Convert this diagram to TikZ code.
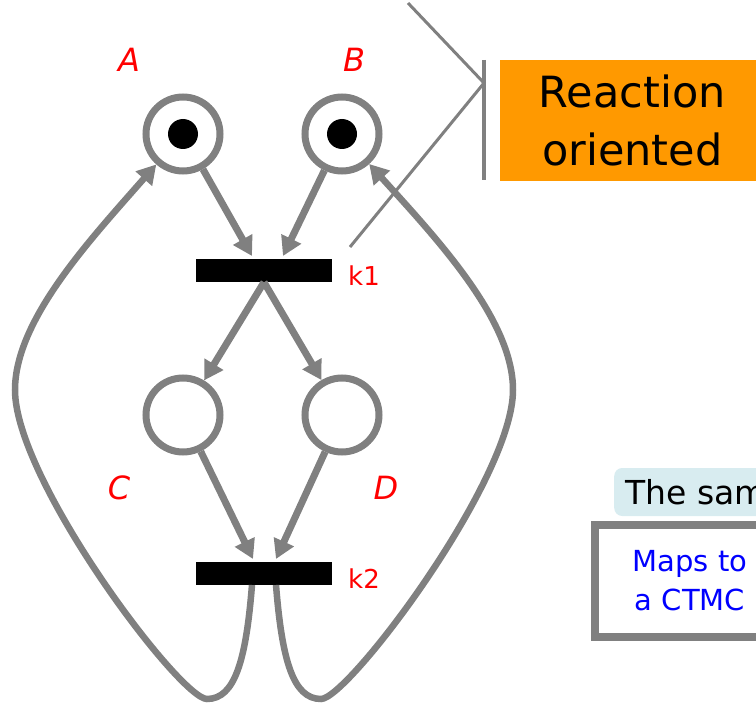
\documentclass[tikz,border=0pt]{standalone}
\usepackage{fontspec}
\setmainfont{DejaVu Sans}
\usetikzlibrary{arrows.meta}
\definecolor{netgray}{HTML}{808080}
\definecolor{notice}{HTML}{FF9900}
\definecolor{paleblue}{HTML}{D8ECF0}
\tikzset{
  place/.style={circle, draw=netgray, line width=7pt, minimum size=74pt, inner sep=0pt, fill=white},
  token/.style={circle, fill=black, minimum size=30pt, inner sep=0pt},
  trans/.style={rectangle, fill=black, minimum width=136pt, minimum height=23pt, inner sep=0pt},
  arc/.style={draw=netgray, line width=7pt, -{Triangle[length=19pt,width=21pt]}},
  looparc/.style={arc, line width=6.5pt},
  lbl/.style={text=red, font=\fontsize{32}{36}\selectfont\itshape, inner sep=0pt},
  klbl/.style={text=red, font=\fontsize{26}{30}\selectfont, inner sep=0pt, anchor=west},
  annot/.style={draw=netgray, line width=3pt},
}
\begin{document}
\begin{tikzpicture}[x=1pt,y=-1pt]
\useasboundingbox (0,0) rectangle (756,706);
\clip (0,0) rectangle (756,706);

% places and transitions
\node[place] (A) at (183,134) {};
\node[token] (tA) at (183,134) {};
\node[place] (B) at (342,134) {};
\node[token] (tB) at (342,134) {};
\node[place] (C) at (183,415) {};
\node[place] (D) at (342,415) {};
\node[trans] (k1) at (264,270.5) {};
\node[trans] (k2) at (264,573.5) {};

% labels
\node[lbl] (lA) at (129,60) {A};
\node[lbl] (lB) at (354,60) {B};
\node[lbl] (lC) at (119,488) {C};
\node[lbl] (lD) at (386,488) {D};
\node[klbl] (lk1) at (348,276) {k1};
\node[klbl] (lk2) at (348,579) {k2};

% arc end points
\coordinate (k1a) at (252,256);
\coordinate (k1b) at (283,256);
\coordinate (k2a) at (253,559);
\coordinate (k2b) at (276,559);
\coordinate (k2L) at (252,585);
\coordinate (k2R) at (276,585);

\draw[arc] (A) -- (k1a);
\draw[arc] (B) -- (k1b);
\draw[arc] (k1.south) -- (C);
\draw[arc] (k1.south) -- (D);
\draw[arc] (C) -- (k2a);
\draw[arc] (D) -- (k2b);

\draw[looparc] (k2L) .. controls (246,660) and (235,699) .. (207,699)
  .. controls (180,699) and (15,480) .. (15,390)
  .. controls (15,320) and (90,240) .. (A);
\draw[looparc] (k2R) .. controls (282,660) and (293,699) .. (321,699)
  .. controls (348,699) and (513,480) .. (513,390)
  .. controls (513,320) and (438,240) .. (B);

% annotation
\coordinate (a1) at (408,3);
\coordinate (apex) at (484,83);
\coordinate (a2) at (350,247);
\coordinate (bar1) at (484,60);
\coordinate (bar2) at (484,180);
\draw[annot] (a1) -- (apex) -- (a2);
\draw[draw=netgray, line width=4pt] (bar1) -- (bar2);

\node[fill=notice, anchor=north west, minimum width=264pt, minimum height=121pt,
      inner sep=0pt, align=center, font=\fontsize{43}{58}\selectfont] (note) at (500,60)
      {Reaction\\oriented};

\node[fill=paleblue, rounded corners=8pt, anchor=west, inner xsep=11pt, inner ysep=0pt,
      minimum height=48pt, font=\fontsize{33}{40}\selectfont] (same) at (614,492) {The same};

\node[draw=netgray, line width=8pt, fill=white, anchor=north west, minimum width=190pt,
      minimum height=112pt, inner sep=0pt, align=center, text=blue,
      font=\fontsize{29}{39}\selectfont] (ctmc) at (591,521) {Maps to\\a CTMC};
\end{tikzpicture}
\end{document}
